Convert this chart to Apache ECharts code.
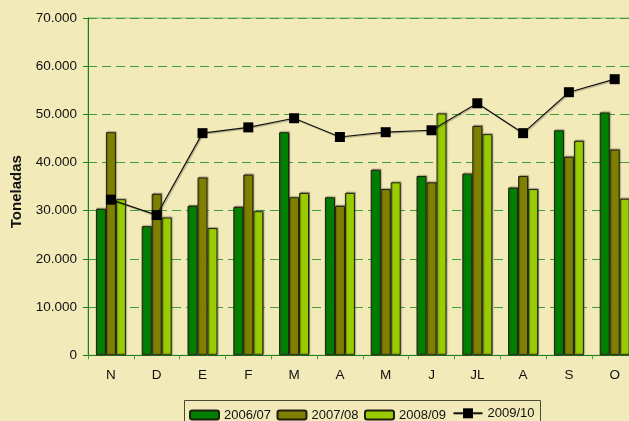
<!DOCTYPE html>
<html>
<head>
<meta charset="utf-8">
<script src="https://cdn.jsdelivr.net/npm/echarts@6/dist/echarts.min.js"></script>
<style>
html,body{margin:0;padding:0;background:#F3EAB9;}
#c{width:629px;height:421px;}
</style>
</head>
<body>
<div id="c"></div>
<script>
const categories = ['N','D','E','F','M','A','M','J','JL','A','S','O'];
const s0607 = [30400,26800,31000,30800,46300,32800,38500,37200,37700,34800,46700,50400];
const s0708 = [46300,33500,36900,37500,32800,31000,34500,35900,47600,37200,41200,42700];
const s0809 = [32400,28600,26400,29900,33700,33700,35900,50200,45900,34500,44500,32500];
const s0910 = [32300,29100,46100,47300,49200,45300,46300,46700,52300,46100,54600,57300];
const seriesNames = ['2006/07','2007/08','2008/09','2009/10'];
const yTicks = {min:0, max:70000, interval:10000};

const font = 'Liberation Sans, Arial, sans-serif';
const fmt = v => String(v).replace(/\B(?=(\d{3})+(?!\d))/g, '.');
const barStyle = c => ({
  color: c, borderColor: '#1e1e10', borderWidth: 1,
  shadowColor: 'rgba(60,60,40,0.45)', shadowBlur: 1, shadowOffsetX: 1, shadowOffsetY: -1
});

const chart = echarts.init(document.getElementById('c'), null, {renderer:'canvas'});
chart.setOption({
  backgroundColor: '#F3EAB9',
  animation: false,
  grid: {left: 88, width: 549.6, top: 18, bottom: 65.7, outerBoundsMode: 'none', containLabel: false,
         show: true, borderColor: '#7DBE6A', borderWidth: 1, backgroundColor: 'transparent'},
  legend: [{
    data: seriesNames.slice(0,3),
    left: 189, top: 408.5, padding: 0,
    itemWidth: 29, itemHeight: 9, itemGap: 5.5,
    textStyle: {fontFamily: font, fontSize: 13, color: '#111'}
  },{
    data: [seriesNames[3]],
    left: 452.5, top: 406.8, padding: 0,
    itemWidth: 29, itemHeight: 12.5,
    textStyle: {fontFamily: font, fontSize: 13, color: '#111'}
  }],
  graphic: [{
    type: 'rect', shape: {x: 184.5, y: 400.5, width: 356, height: 40},
    style: {fill: 'none', stroke: '#4a4a3a', lineWidth: 1}, silent: true, z: 100
  }],
  xAxis: {
    type: 'category', data: categories, boundaryGap: true,
    axisLine: {lineStyle: {color: '#1f7f1f', width: 1}},
    axisTick: {show: true, length: 4, lineStyle: {color: '#4f9f3f'}},
    axisLabel: {fontFamily: font, fontSize: 13.5, color: '#111', margin: 13}
  },
  yAxis: {
    type: 'value', min: yTicks.min, max: yTicks.max, interval: yTicks.interval,
    name: 'Toneladas', nameLocation: 'middle', nameRotate: 90, nameGap: 60,
    nameTextStyle: {fontFamily: font, fontSize: 15, fontWeight: 'bold', color: '#111', padding: [0,10,0,0]},
    axisLine: {show: true, lineStyle: {color: '#1f7f1f', width: 1}},
    axisTick: {show: true, length: 5, inside: false, lineStyle: {color: '#1f7f1f'}},
    axisLabel: {fontFamily: font, fontSize: 13.5, color: '#111', margin: 11, formatter: fmt},
    splitLine: {show: true, lineStyle: {color: '#3C9F3C', type: [9,5], width: 1}}
  },
  series: [
    {name: seriesNames[0], type: 'bar', data: s0607, barWidth: 10, barGap: '0%', itemStyle: barStyle('#008000')},
    {name: seriesNames[1], type: 'bar', data: s0708, barWidth: 10, barGap: '0%', itemStyle: barStyle('#808000')},
    {name: seriesNames[2], type: 'bar', data: s0809, barWidth: 10, barGap: '0%', itemStyle: barStyle('#99CC00')},
    {name: seriesNames[3], type: 'line', data: s0910, symbol: 'rect', symbolSize: 10, z: 5,
     lineStyle: {color: '#111', width: 1.2, shadowColor: 'rgba(0,0,0,0.3)', shadowBlur: 1, shadowOffsetX: 1, shadowOffsetY: 1},
     itemStyle: {color: '#000', borderWidth: 0}}
  ]
});
</script>
</body>
</html>
